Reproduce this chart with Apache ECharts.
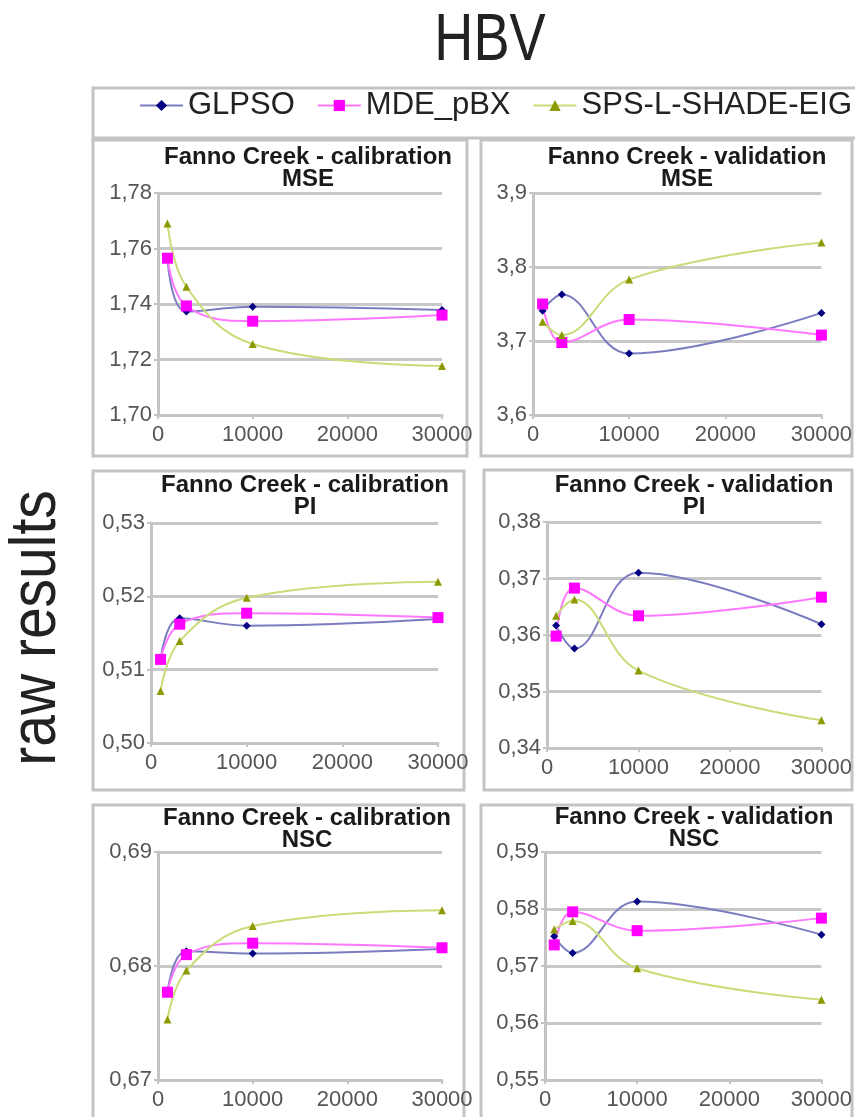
<!DOCTYPE html>
<html lang="en">

<head>
    <meta charset="UTF-8">
    <title>HBV</title>
    <script src="https://cdn.jsdelivr.net/npm/echarts@6/dist/echarts.min.js"></script>
    <style>
        body { margin: 0; background: #fff; }
        .demo { width: 855px; height: 1117px; }
    </style>
</head>

<body>
    <div class="demo"></div>
    <script>
        // function evaluations on the x axis
        var steps = [1000, 3000, 10000, 30000]
        var seriesNames = ['GLPSO', 'MDE_pBX', 'SPS-L-SHADE-EIG']

        // Fanno Creek - calibration MSE
        var calMSE_GLPSO = [1.7565, 1.7373, 1.7390, 1.7378]
        var calMSE_MDE = [1.7565, 1.7393, 1.7338, 1.7360]
        var calMSE_SPS = [1.7690, 1.7462, 1.7256, 1.7177]
        // Fanno Creek - validation MSE
        var valMSE_GLPSO = [3.741, 3.763, 3.683, 3.738]
        var valMSE_MDE = [3.750, 3.698, 3.729, 3.708]
        var valMSE_SPS = [3.726, 3.708, 3.783, 3.833]
        // Fanno Creek - calibration PI
        var calPI_GLPSO = [0.5114, 0.5170, 0.5160, 0.5169]
        var calPI_MDE = [0.5114, 0.5162, 0.5177, 0.5171]
        var calPI_SPS = [0.5071, 0.5139, 0.5198, 0.5220]
        // Fanno Creek - validation PI
        var valPI_GLPSO = [0.3617, 0.3576, 0.3710, 0.3619]
        var valPI_MDE = [0.3598, 0.3683, 0.3634, 0.3667]
        var valPI_SPS = [0.3634, 0.3663, 0.3537, 0.3449]
        // Fanno Creek - calibration NSC
        var calNSC_GLPSO = [0.6777, 0.6813, 0.6811, 0.6815]
        var calNSC_MDE = [0.6777, 0.6810, 0.6820, 0.6816]
        var calNSC_SPS = [0.6753, 0.6796, 0.6835, 0.6849]
        // Fanno Creek - validation NSC
        var valNSC_GLPSO = [0.5752, 0.5723, 0.5813, 0.5755]
        var valNSC_MDE = [0.5737, 0.5795, 0.5762, 0.5784]
        var valNSC_SPS = [0.5764, 0.5779, 0.5696, 0.5641]

        var sans = "'Liberation Sans', Arial, sans-serif"
        var boxColor = '#c4c4c4'

        // one entry per small chart
        var panels = [
            { title: 'Fanno Creek - calibration\nMSE', tx: 308, ty: 146, grid: [158, 193, 284, 222], y: [1.70, 1.78, 0.02], dec: 2, box: [93, 140, 374, 316], data: [calMSE_GLPSO, calMSE_MDE, calMSE_SPS] },
            { title: 'Fanno Creek - validation\nMSE', tx: 687, ty: 146, grid: [533, 193, 295, 222], y: [3.6, 3.9, 0.1], dec: 1, box: [481, 140, 371, 316], data: [valMSE_GLPSO, valMSE_MDE, valMSE_SPS] },
            { title: 'Fanno Creek - calibration\nPI', tx: 305, ty: 474, grid: [151, 523, 287, 220], y: [0.50, 0.53, 0.01], dec: 2, box: [93, 471, 371, 319], data: [calPI_GLPSO, calPI_MDE, calPI_SPS] },
            { title: 'Fanno Creek - validation\nPI', tx: 694, ty: 474, grid: [547, 522, 281, 226], y: [0.34, 0.38, 0.01], dec: 2, box: [484, 470, 368, 320], data: [valPI_GLPSO, valPI_MDE, valPI_SPS] },
            { title: 'Fanno Creek - calibration\nNSC', tx: 307, ty: 807, grid: [158, 852, 284, 228], y: [0.67, 0.69, 0.01], dec: 2, box: [93, 805, 371, 330], data: [calNSC_GLPSO, calNSC_MDE, calNSC_SPS] },
            { title: 'Fanno Creek - validation\nNSC', tx: 694, ty: 806, grid: [545, 852, 283, 228], y: [0.55, 0.59, 0.01], dec: 2, box: [481, 805, 371, 330], data: [valNSC_GLPSO, valNSC_MDE, valNSC_SPS] }
        ]

        // line / marker styles per series
        var looks = [
            { line: '#7c7cc0', mark: '#000080', symbol: 'diamond', size: 8 },
            { line: '#ff78ff', mark: '#ff00ff', symbol: 'rect', size: 11 },
            { line: '#c8dc78', mark: '#8c9a00', symbol: 'triangle', size: 8 }
        ]

        var titles = []
        var grids = [], xAxes = [], yAxes = [], series = []
        var graphics = [
            { type: 'rect', shape: { x: 93, y: 88, width: 780, height: 50 }, style: { fill: 'none', stroke: boxColor, lineWidth: 3 } },
            // narrow look: squeeze normal sans horizontally
            {
                type: 'text', x: 490, y: 42, scaleX: 0.82,
                style: { text: 'HBV', fontFamily: sans, fontSize: 66, fill: '#222', textAlign: 'center', textVerticalAlign: 'middle' }
            },
            {
                type: 'text', x: 37, y: 628, rotation: Math.PI / 2, scaleX: 0.89,
                style: { text: 'raw results', fontFamily: sans, fontSize: 64, fill: '#222', textAlign: 'center', textVerticalAlign: 'middle' }
            }
        ]

        panels.forEach(function (p, i) {
            graphics.push({ type: 'rect', shape: { x: p.box[0], y: p.box[1], width: p.box[2], height: p.box[3] }, style: { fill: 'none', stroke: boxColor, lineWidth: 3 } })
            titles.push({
                text: p.title, left: p.tx, top: p.ty, textAlign: 'center', padding: 0,
                textStyle: { fontFamily: sans, fontSize: 24, fontWeight: 'bold', lineHeight: 22, color: '#1a1a1a' }
            })
            grids.push({ left: p.grid[0], top: p.grid[1], width: p.grid[2], height: p.grid[3] })
            xAxes.push({
                type: 'value', gridIndex: i, min: 0, max: 30000, interval: 10000,
                axisLine: { show: true, lineStyle: { color: boxColor, width: 3 } },
                axisTick: { show: true, length: 4, lineStyle: { color: boxColor, width: 2 } },
                splitLine: { show: false },
                axisLabel: { color: '#555', fontFamily: sans, fontSize: 22, margin: 9, formatter: function (v) { return String(v) } }
            })
            yAxes.push({
                type: 'value', gridIndex: i, min: p.y[0], max: p.y[1], interval: p.y[2],
                axisLine: { show: true, lineStyle: { color: boxColor, width: 3 } },
                axisTick: { show: true, length: 4, lineStyle: { color: boxColor, width: 2 } },
                splitLine: { show: true, lineStyle: { color: '#c8c8c8', width: 3 } },
                axisLabel: {
                    color: '#555', fontFamily: sans, fontSize: 22, margin: 6,
                    formatter: (function (d) { return function (v) { return v.toFixed(d).replace('.', ',') } })(p.dec)
                }
            })
            p.data.forEach(function (vals, k) {
                var lk = looks[k]
                series.push({
                    name: seriesNames[k], type: 'line', xAxisIndex: i, yAxisIndex: i,
                    smooth: 0.4, symbol: lk.symbol, symbolSize: lk.size, showAllSymbol: true,
                    lineStyle: { color: lk.line, width: 2 },
                    itemStyle: { color: lk.mark },
                    data: steps.map(function (x, j) { return [x, vals[j]] })
                })
            })
        })

        var chart = echarts.init(document.querySelector('.demo'))
        chart.setOption({
            animation: false,
            title: titles,
            legend: {
                data: seriesNames, left: 139, top: 90, padding: 0,
                itemWidth: 43, itemHeight: 14, itemGap: 22,
                textStyle: { fontFamily: sans, fontSize: 31, color: '#222' }
            },
            grid: grids,
            xAxis: xAxes,
            yAxis: yAxes,
            series: series,
            graphic: graphics
        })
    </script>
</body>

</html>
